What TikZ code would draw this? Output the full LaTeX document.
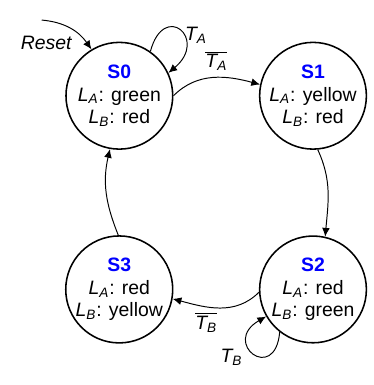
\documentclass[tikz,border=0pt]{standalone}
\usepackage{fontspec}
\setmainfont{Liberation Sans}
\usetikzlibrary{arrows.meta, positioning, calc}
\usepackage{xcolor}

\newcommand{\varsub}[2]{\textit{#1\textsubscript{#2}}}
\newcommand{\stname}[1]{\textcolor{blue}{\textbf{#1}}}

\begin{document}
\begin{tikzpicture}[
  state/.style={circle, draw=black, thick, minimum size=55pt, inner sep=0pt,
    align=center, font=\fontsize{10}{11.5}\selectfont},
  lbl/.style={font=\fontsize{10}{12}\selectfont, inner sep=1pt},
  arrow/.style={-{Latex[length=4.5pt,width=4pt]}, line width=0.5pt}
]

% states
\node (S0) [state] {\stname{S0}\\ \varsub{L}{A}: green\\ \varsub{L}{B}: red};
\node (S1) [state, right=44pt of S0] {\stname{S1}\\ \varsub{L}{A}: yellow\\ \varsub{L}{B}: red};
\node (S2) [state, below=44pt of S1] {\stname{S2}\\ \varsub{L}{A}: red\\ \varsub{L}{B}: green};
\node (S3) [state, left=44pt of S2] {\stname{S3}\\ \varsub{L}{A}: red\\ \varsub{L}{B}: yellow};

% reset
\coordinate (rst) at ($(S0)+(-40pt,39pt)$);
\node (reset) [lbl] at ($(S0)+(-37.5pt,27pt)$) {\textit{Reset}};

% transitions
\draw [arrow] (rst) to[out=-5, in=125] (S0.121);
\draw [arrow] (S0.55) to[out=75, in=40, looseness=4.8] (S0.25);
\draw [arrow] (S0.east) to[out=45, in=165] (S1.168);
\draw [arrow] (S1.275) to[out=-65, in=85] (S2.77);
\draw [arrow] (S2.183) to[out=225, in=-15] (S3.-10);
\draw [arrow] (S2.232) to[out=265, in=210, looseness=6.5] (S2.210);
\draw [arrow] (S3.91) to[out=112, in=-103] (S0.260);

% labels
\node (tA) [lbl] at ($(S0)+(39.5pt,31pt)$) {\varsub{T}{A}};
\node (nTA) [lbl] at ($(S0)+(50pt,18pt)$) {$\overline{\mbox{\varsub{T}{A}}}$};
\node (nTB) [lbl] at ($(S2)+(-55pt,-17pt)$) {$\overline{\mbox{\varsub{T}{B}}}$};
\node (tB) [lbl] at ($(S2)+(-42pt,-35pt)$) {\varsub{T}{B}};

\useasboundingbox ($(S0)+(-61.5pt,43pt)$) rectangle ($(S0)+(131pt,-137.5pt)$);

\end{tikzpicture}
\end{document}
